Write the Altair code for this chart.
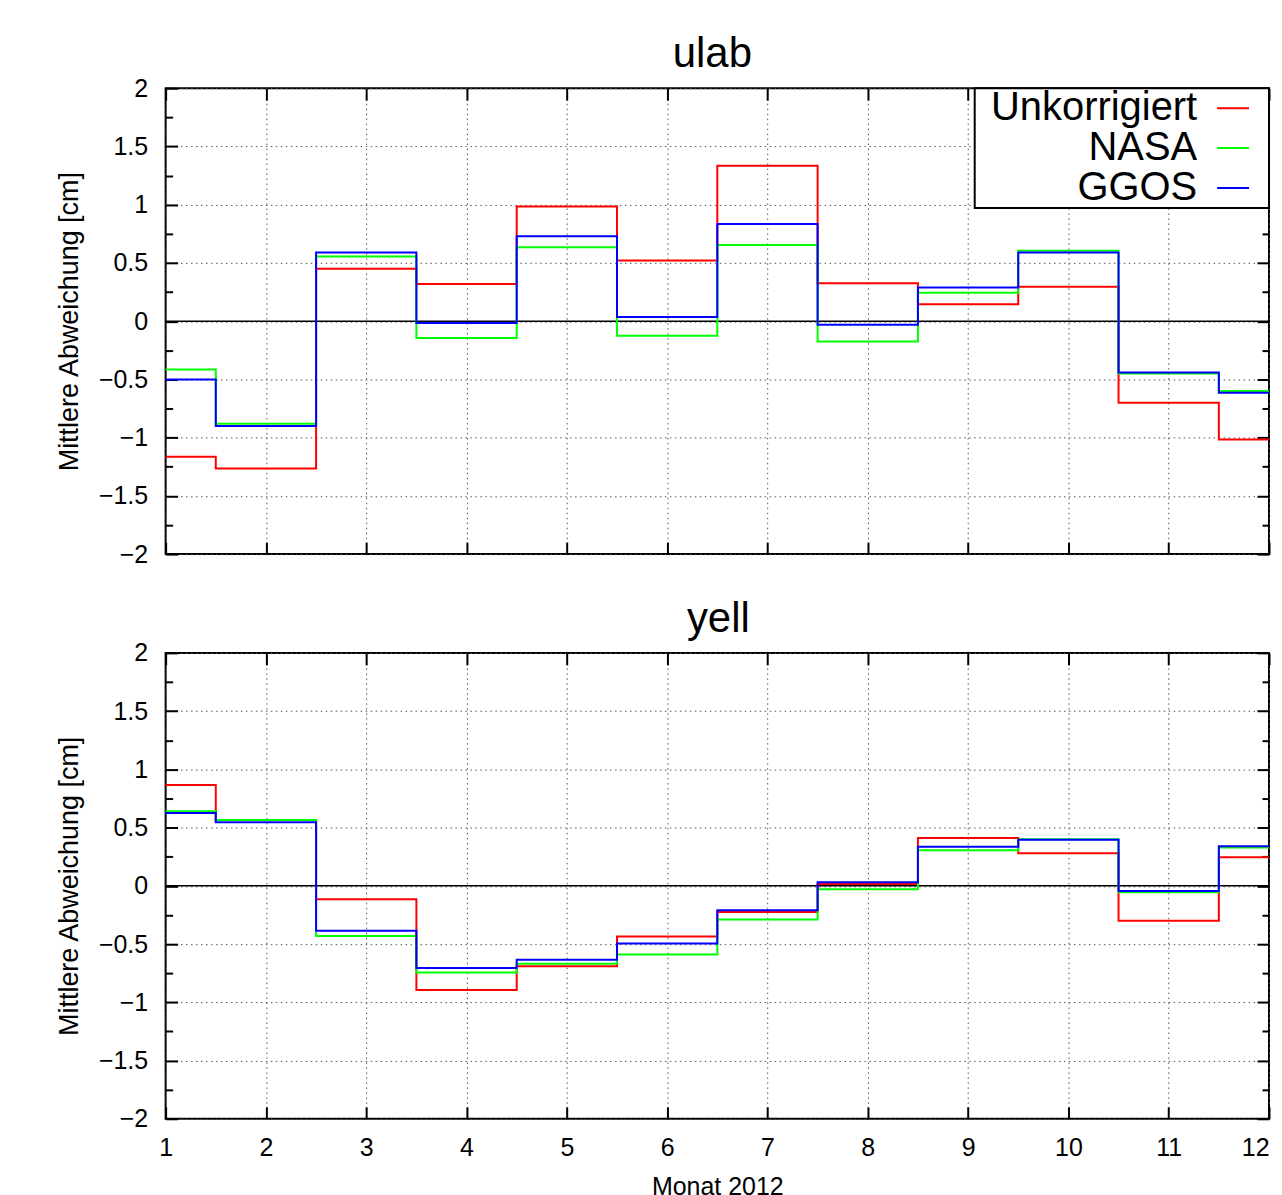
import altair as alt
import pandas as pd

FONT = "Liberation Sans"

months = list(range(1, 13))
series = ["Unkorrigiert", "NASA", "GGOS"]
colors = ["#ff0000", "#00ff00", "#0000ff"]

# ulab
ulab_unkorrigiert = [-1.165, -1.265, 0.45, 0.32, 0.985, 0.52, 1.335, 0.325, 0.145, 0.295, -0.70, -1.015]
ulab_nasa = [-0.415, -0.88, 0.555, -0.145, 0.635, -0.125, 0.655, -0.175, 0.245, 0.605, -0.45, -0.60]
ulab_ggos = [-0.50, -0.90, 0.59, -0.015, 0.73, 0.035, 0.835, -0.03, 0.29, 0.59, -0.44, -0.615]

# yell
yell_unkorrigiert = [0.865, 0.565, -0.115, -0.895, -0.69, -0.435, -0.225, 0.015, 0.41, 0.28, -0.30, 0.245]
yell_nasa = [0.64, 0.565, -0.43, -0.745, -0.67, -0.59, -0.29, -0.03, 0.305, 0.40, -0.055, 0.33]
yell_ggos = [0.625, 0.545, -0.385, -0.705, -0.635, -0.495, -0.21, 0.03, 0.335, 0.395, -0.045, 0.34]

x_tick_values = months
y_major_values = [-2, -1.5, -1, -0.5, 0, 0.5, 1, 1.5, 2]
y_minor_values = [-1.75, -1.25, -0.75, -0.25, 0.25, 0.75, 1.25, 1.75]
zero_line = [0]

W = 1106
H = 467
GRID = dict(gridColor="#555555", gridDash=[1.5, 3.5], gridWidth=1)
# legend sample: a short line with an invisible extension to its right
LEGEND_SYMBOL = "M-1,0H1M2.0,0"


def make_df(values_by_series):
    rows = []
    for s, vals in zip(series, values_by_series):
        for m, v in zip(months, vals):
            rows.append({"Monat": m, "Abweichung": v, "Reihe": s})
    return pd.DataFrame(rows)


def tick_axis(orient, values, size):
    return alt.Axis(orient=orient, values=values, tickSize=size, offset=-size,
                    labels=False, domain=False, grid=False, title=None,
                    ticks=True, tickColor="black", tickWidth=2)


def panel(name, values_by_series, is_bottom, title_dx):
    df = make_df(values_by_series)
    xs = alt.Scale(domain=[1, 12], nice=False, zero=False)
    ys = alt.Scale(domain=[-2, 2], nice=False, zero=False)
    base = alt.Chart(df)

    x_main = dict(orient="bottom", values=x_tick_values, ticks=False, domain=False,
                  grid=True, labels=is_bottom, labelFlush=False, labelFont=FONT,
                  labelFontSize=25, labelColor="black", labelPadding=17, format="d",
                  labelAlign={"condition": {"test": "datum.value == 12", "value": "right"},
                              "value": "center"},
                  **GRID)
    if is_bottom:
        x_main.update(title="Monat 2012", titleFont=FONT, titleFontSize=25,
                      titleFontWeight="normal", titleColor="black", titlePadding=14)
    else:
        x_main["title"] = None
    y_main = alt.Axis(orient="left", values=y_major_values, ticks=False, domain=False,
                      grid=True, labelFont=FONT, labelFontSize=25, labelColor="black",
                      labelPadding=18, format="~g", title="Mittlere Abweichung [cm]",
                      titleFont=FONT, titleFontSize=27, titleFontWeight="normal",
                      titleColor="black", titlePadding=15, **GRID)

    if is_bottom:
        color = alt.Color("Reihe:N", scale=alt.Scale(domain=series, range=colors), legend=None)
    else:
        color = alt.Color(
            "Reihe:N", scale=alt.Scale(domain=series, range=colors),
            legend=alt.Legend(title=None, orient="top-right", offset=0,
                              symbolType=LEGEND_SYMBOL, symbolSize=1024,
                              symbolStrokeWidth=2, symbolFillColor="transparent",
                              labelFont=FONT, labelFontSize=40,
                              labelColor="black", labelAlign="right",
                              labelOffset={"expr": "-56"},
                              symbolOffset=239, labelLimit=400, fillColor="white",
                              strokeColor="black", padding=0, rowPadding=0))

    lines = base.mark_line(interpolate="step", strokeWidth=2).encode(
        x=alt.X("Monat:Q", scale=xs, axis=alt.Axis(**x_main)),
        y=alt.Y("Abweichung:Q", scale=ys, axis=y_main),
        color=color,
    )

    zero = alt.Chart(pd.DataFrame({"Null": zero_line})).mark_rule(
        color="black", strokeWidth=1.5).encode(
        y=alt.Y("Null:Q", scale=ys, axis=None))

    def ghost(xaxis, yaxis):
        return base.mark_line(opacity=0).encode(
            x=alt.X("Monat:Q", scale=xs, axis=xaxis),
            y=alt.Y("Abweichung:Q", scale=ys, axis=yaxis),
            detail="Reihe:N")

    layers = [
        zero,
        ghost(tick_axis("bottom", x_tick_values, 12), tick_axis("left", y_major_values, 12)),
        ghost(tick_axis("top", x_tick_values, 12), tick_axis("left", y_minor_values, 7)),
        ghost(None, tick_axis("right", y_major_values, 12)),
        ghost(None, tick_axis("right", y_minor_values, 7)),
        lines,
    ]
    return alt.layer(*layers).resolve_axis(x="independent", y="independent").properties(
        width=W, height=H,
        title=alt.Title(name, font=FONT, fontSize=42, fontWeight="normal",
                        color="black", offset=0, anchor="middle", dx=title_dx))


top = panel("ulab", [ulab_unkorrigiert, ulab_nasa, ulab_ggos], False, -5)
bottom = panel("yell", [yell_unkorrigiert, yell_nasa, yell_ggos], True, 1)

chart = alt.vconcat(top, bottom, spacing=29).resolve_scale(color="independent").properties(
    padding={"left": 46, "top": 23, "right": 0, "bottom": 0}
).configure_view(stroke="black", strokeWidth=2).configure_legend(strokeWidth=2)

chart.save("out.html", embed_options={"renderer": "svg", "actions": False})
